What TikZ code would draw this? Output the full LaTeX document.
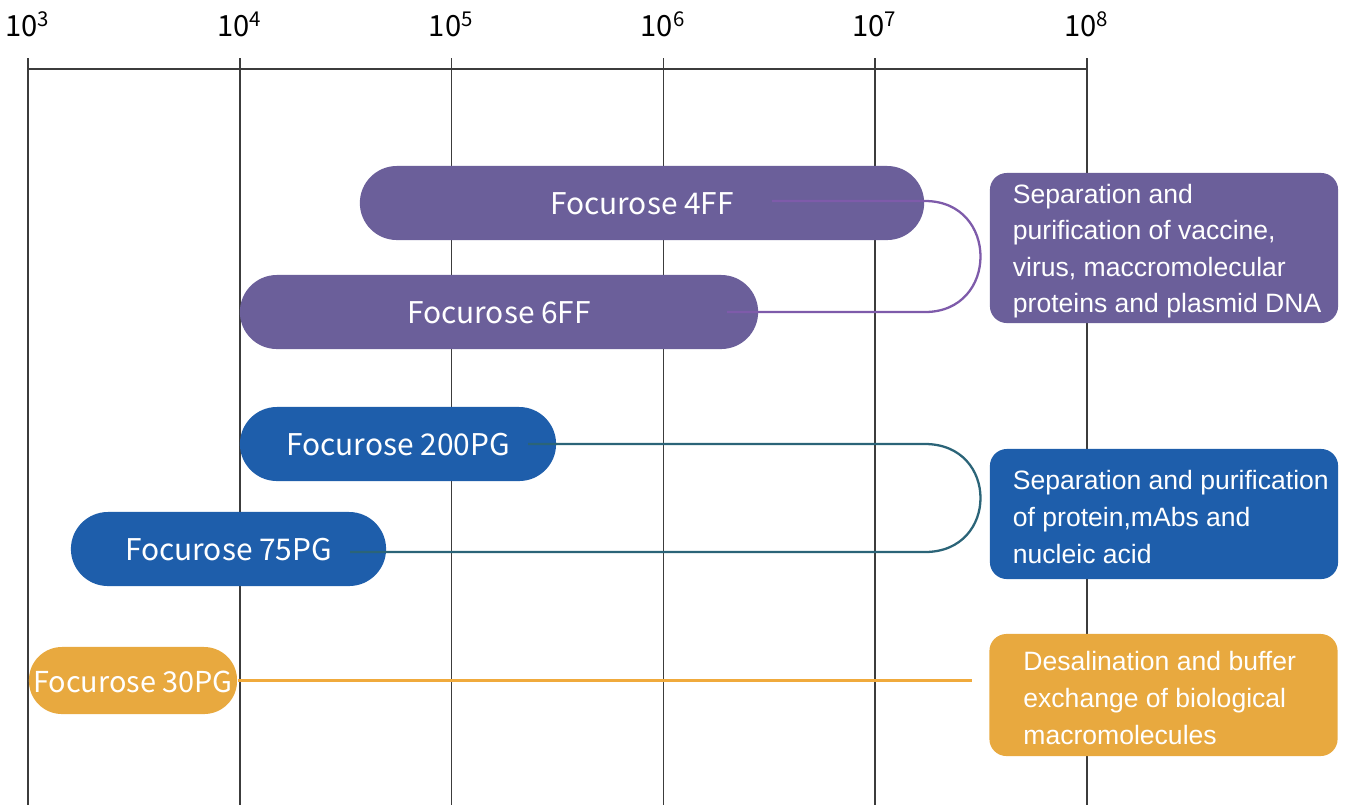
\documentclass[tikz,border=0pt]{standalone}
\usepackage{fontspec}
\newfontfamily\pillfont{Noto Sans CJK SC}
\newfontfamily\boxfont{Liberation Sans}
\definecolor{ffpurple}{HTML}{6B5F9A}
\definecolor{ffline}{HTML}{7E5BAA}
\definecolor{pgblue}{HTML}{1E5EAB}
\definecolor{pgline}{HTML}{2B6478}
\definecolor{pgorange}{HTML}{E8A93F}
\definecolor{orline}{HTML}{F0AA3C}
\definecolor{gridgray}{HTML}{3C3C3C}

\begin{document}
\begin{tikzpicture}[x=0.01cm,y=-0.01cm,
  pill/.style={rounded corners=0.37cm, minimum height=0.74cm, inner sep=0pt,
    text height=6.6pt, text depth=0pt,
    text=white, font=\pillfont\fontsize{8.5}{10}\selectfont},
  usebox/.style={rounded corners=0.17cm, minimum width=3.48cm, inner sep=0pt},
  usetext/.style={anchor=west, align=left, inner sep=0pt, text=white,
    font=\boxfont\fontsize{7.55}{10.4}\selectfont},
  link/.style={line width=0.65pt}]
\useasboundingbox (0,0) rectangle (1348,805);
% scale
\foreach \i in {0,...,5}{
  \pgfmathtruncatemacro{\ex}{\i+3}
  \draw[gridgray, line width=0.45pt] (28+211.8*\i,58) -- (28+211.8*\i,805);
  \node[anchor=base, inner sep=0pt, font=\pillfont\fontsize{8.3}{10}\selectfont] (t\ex) at (28+211.8*\i,36) {10\textsuperscript{\ex}};
}
\draw[gridgray, line width=0.55pt] (28,69) -- (1087,69);
%
\node[pill, fill=ffpurple, minimum width=5.64cm] (ff4) at (642,203) {Focurose 4FF};
\node[pill, fill=ffpurple, minimum width=5.18cm] (ff6) at (499,312) {Focurose 6FF};
\node[pill, fill=pgblue, minimum width=3.16cm] (pg200) at (398,444) {Focurose 200PG};
\node[pill, fill=pgblue, minimum width=3.15cm] (pg75) at (228.5,549) {Focurose 75PG};
\node[pill, fill=pgorange, minimum width=2.08cm, minimum height=0.67cm, rounded corners=0.33cm,
  font=\pillfont\fontsize{8.2}{10}\selectfont] (pg30) at (133,680.5) {Focurose 30PG};
%
\coordinate (ffa) at (772,201);
\coordinate (ffb) at (727,312);
\draw[link, ffline] (ffa) -- (925,201) .. controls (999,201) and (999,312) .. (925,312) -- (ffb);
\coordinate (pga) at (528,444);
\coordinate (pgb) at (350,552);
\draw[link, pgline] (pga) -- (925,444) .. controls (999,444) and (999,552) .. (925,552) -- (pgb);
\coordinate (pgc) at (972,680.5);
\draw[link, orline] (pg30.east) -- (pgc);
%
\node[usebox, fill=ffpurple, minimum height=1.5cm] (use1) at (1164,248) {};
\node[usetext] (use1txt) at ([xshift=0.23cm,yshift=-0.03cm]use1.west) {Separation and\\purification of vaccine,\\virus, maccromolecular\\proteins and plasmid DNA};
\node[usebox, fill=pgblue, minimum height=1.3cm] (use2) at (1164,514) {};
\node[usetext] (use2txt) at ([xshift=0.23cm,yshift=-0.03cm]use2.west) {Separation and purification\\of protein,mAbs and\\nucleic acid};
\node[usebox, fill=pgorange, minimum height=1.22cm] (use3) at (1163.5,695) {};
\node[usetext] (use3txt) at ([xshift=0.34cm,yshift=-0.03cm]use3.west) {Desalination and buffer\\exchange of biological\\macromolecules};
\end{tikzpicture}
\end{document}
